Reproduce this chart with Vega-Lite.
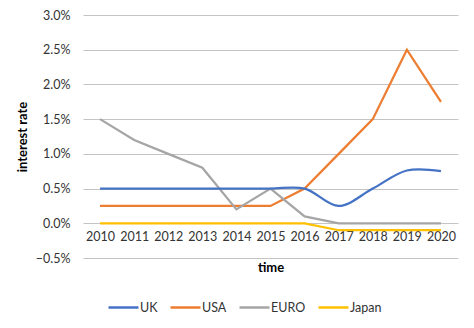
{
  "$schema": "https://vega.github.io/schema/vega-lite/v6.json",
  "width": 375,
  "height": 243,
  "autosize": {"type": "none"},
  "padding": {"left": 83, "top": 15, "right": 16, "bottom": 70},
  "background": "white",
  "config": {
    "font": "Lato",
    "view": {"stroke": null},
    "axis": {"labelFont": "Lato", "labelFontSize": 12.5, "labelColor": "#333333", "titleFont": "Lato", "titleFontSize": 13, "titleFontWeight": "bold", "titleColor": "#000000"},
    "legend": {"labelFont": "Lato", "labelFontSize": 12.5, "labelColor": "#333333", "gridAlign": "none"}
  },
  "data": {
    "values": [
      {"year": "2010", "country": "UK", "rate": 0.005},
      {"year": "2011", "country": "UK", "rate": 0.005},
      {"year": "2012", "country": "UK", "rate": 0.005},
      {"year": "2013", "country": "UK", "rate": 0.005},
      {"year": "2014", "country": "UK", "rate": 0.005},
      {"year": "2015", "country": "UK", "rate": 0.005},
      {"year": "2016", "country": "UK", "rate": 0.005},
      {"year": "2017", "country": "UK", "rate": 0.0025},
      {"year": "2018", "country": "UK", "rate": 0.005},
      {"year": "2019", "country": "UK", "rate": 0.0076},
      {"year": "2020", "country": "UK", "rate": 0.0075},
      {"year": "2010", "country": "USA", "rate": 0.0025},
      {"year": "2011", "country": "USA", "rate": 0.0025},
      {"year": "2012", "country": "USA", "rate": 0.0025},
      {"year": "2013", "country": "USA", "rate": 0.0025},
      {"year": "2014", "country": "USA", "rate": 0.0025},
      {"year": "2015", "country": "USA", "rate": 0.0025},
      {"year": "2016", "country": "USA", "rate": 0.005},
      {"year": "2017", "country": "USA", "rate": 0.01},
      {"year": "2018", "country": "USA", "rate": 0.015},
      {"year": "2019", "country": "USA", "rate": 0.025},
      {"year": "2020", "country": "USA", "rate": 0.0175},
      {"year": "2010", "country": "EURO", "rate": 0.015},
      {"year": "2011", "country": "EURO", "rate": 0.012},
      {"year": "2012", "country": "EURO", "rate": 0.01},
      {"year": "2013", "country": "EURO", "rate": 0.008},
      {"year": "2014", "country": "EURO", "rate": 0.002},
      {"year": "2015", "country": "EURO", "rate": 0.005},
      {"year": "2016", "country": "EURO", "rate": 0.001},
      {"year": "2017", "country": "EURO", "rate": 0.0},
      {"year": "2018", "country": "EURO", "rate": 0.0},
      {"year": "2019", "country": "EURO", "rate": 0.0},
      {"year": "2020", "country": "EURO", "rate": 0.0},
      {"year": "2010", "country": "Japan", "rate": 0.0},
      {"year": "2011", "country": "Japan", "rate": 0.0},
      {"year": "2012", "country": "Japan", "rate": 0.0},
      {"year": "2013", "country": "Japan", "rate": 0.0},
      {"year": "2014", "country": "Japan", "rate": 0.0},
      {"year": "2015", "country": "Japan", "rate": 0.0},
      {"year": "2016", "country": "Japan", "rate": 0.0},
      {"year": "2017", "country": "Japan", "rate": -0.001},
      {"year": "2018", "country": "Japan", "rate": -0.001},
      {"year": "2019", "country": "Japan", "rate": -0.001},
      {"year": "2020", "country": "Japan", "rate": -0.001}
    ]
  },
  "encoding": {
    "x": {
      "field": "year", "type": "ordinal",
      "scale": {"type": "point", "padding": 0.5},
      "axis": {"title": "time", "labelAngle": 0, "domain": false, "ticks": false, "grid": false, "offset": -35, "labelPadding": 7, "titlePadding": 19}
    },
    "y": {
      "field": "rate", "type": "quantitative",
      "scale": {"domain": [-0.005, 0.03], "nice": false, "zero": false},
      "axis": {"title": "interest rate", "format": ".1%", "values": [-0.005, 0, 0.005, 0.01, 0.015, 0.02, 0.025, 0.03], "domain": false, "ticks": false, "grid": true, "gridColor": "#c4c4c4", "gridWidth": 1, "labelPadding": 13, "titlePadding": 6}
    },
    "color": {
      "field": "country", "type": "nominal",
      "scale": {"domain": ["UK", "USA", "EURO", "Japan"], "range": ["#4472C4", "#ED7D31", "#A5A5A5", "#FFC000"]},
      "legend": {"title": null, "orient": "none", "legendX": 24, "legendY": 276, "direction": "horizontal", "symbolType": "stroke", "symbolSize": 900, "symbolStrokeWidth": 2.5, "labelOffset": 0, "columnPadding": 7}
    }
  },
  "layer": [
    {
      "transform": [{"filter": "datum.country != 'UK'"}],
      "mark": {"type": "line", "strokeWidth": 2.25, "interpolate": "linear"}
    },
    {
      "transform": [{"filter": "datum.country == 'UK'"}],
      "mark": {"type": "line", "strokeWidth": 2.25, "interpolate": "catmull-rom"}
    }
  ]
}
